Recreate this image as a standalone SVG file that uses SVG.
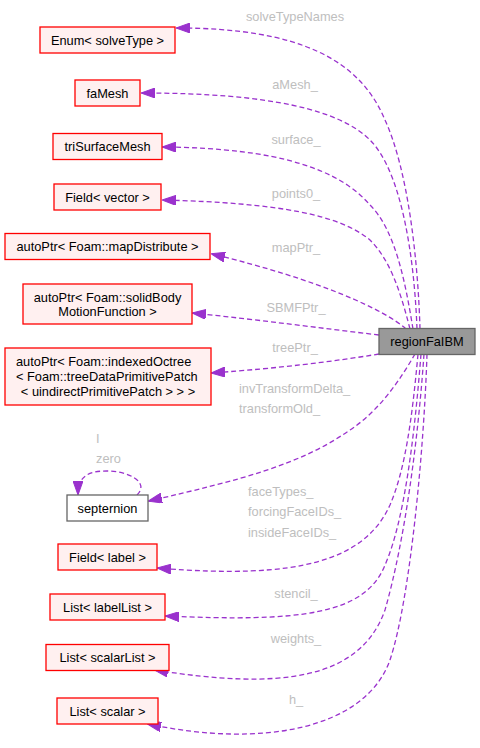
<svg xmlns="http://www.w3.org/2000/svg" width="480" height="748" viewBox="0 0 480 748">
<style>
text{font-family:"Liberation Sans",Arial,sans-serif;font-size:12.8px}
.n text{fill:#000;text-anchor:middle}
.r rect{fill:#fff0f0;stroke:#ff0000;stroke-width:1.3}
.lbl{fill:#bebebe}
.m{text-anchor:middle}
.e path{fill:none;stroke:#9a32cd;stroke-width:1.3;stroke-dasharray:5,3;marker-end:url(#ah)}
</style>
<defs>
<marker id="ah" markerUnits="userSpaceOnUse" markerWidth="14" markerHeight="10" viewBox="0 0 14 10" refX="13" refY="5" orient="auto">
<path d="M0,0 L14,5 L0,10 z" fill="#9a32cd" stroke="#9a32cd"/>
</marker>
</defs>
<rect width="480" height="748" fill="#fff"/>
<g id="edges" class="e">
<path d="M420,329 C418,260 408,170 385,120 C360,60 300,28 177,28"/>
<path d="M417,329 C414,250 400,170 370,140 C340,110 270,93 142,93"/>
<path d="M413,329 C405,280 395,230 370,205 C340,170 280,148 163,147"/>
<path d="M410,329 C400,290 390,260 370,240 C340,215 280,203 163,200"/>
<path d="M406,329 C385,310 320,280 212,254"/>
<path d="M379,335 C320,328 260,320 193,313"/>
<path d="M379,354 C330,362 280,368 212,373"/>
<path d="M415,354 C400,380 380,410 350,430 C300,465 240,480 149,501"/>
<path d="M418,354 C412,420 405,470 390,505 C365,560 300,580 158,568"/>
<path d="M421,354 C415,430 405,520 385,565 C365,615 300,622 166,616"/>
<path d="M424,354 C418,440 405,540 385,610 C360,680 280,690 155,670"/>
<path d="M427,354 C424,450 410,600 390,660 C365,730 260,748 148,724"/>
<path d="M137,495 C150,482 128,471 107,471 C92,471 78,474 78,494"/>
</g>
<g id="labels" class="lbl">
<text class="m" x="295" y="21">solveTypeNames</text>
<text class="m" x="295" y="89">aMesh_</text>
<text class="m" x="296" y="144">surface_</text>
<text class="m" x="296" y="198">points0_</text>
<text class="m" x="296" y="252">mapPtr_</text>
<text class="m" x="296" y="312">SBMFPtr_</text>
<text class="m" x="295" y="352">treePtr_</text>
<text x="239" y="393">invTransformDelta_</text>
<text x="239" y="413">transformOld_</text>
<text x="248" y="496">faceTypes_</text>
<text x="248" y="516">forcingFaceIDs_</text>
<text x="248" y="537">insideFaceIDs_</text>
<text class="m" x="296" y="598">stencil_</text>
<text class="m" x="296" y="643">weights_</text>
<text class="m" x="296" y="704">h_</text>
<text x="96" y="443">I</text>
<text x="96" y="463">zero</text>
</g>
<g id="regionFaIBM" class="n">
<rect x="379" y="328.5" width="96" height="26" fill="#999999" stroke="#666666" stroke-width="1.3"/>
<text x="427" y="346">regionFaIBM</text>
</g>
<g id="enum" class="n r">
<rect x="40" y="27" width="135" height="26"/>
<text x="107.5" y="44.5">Enum&lt; solveType &gt;</text>
</g>
<g id="faMesh" class="n r">
<rect x="75" y="80" width="65" height="26"/>
<text x="107.5" y="97.5">faMesh</text>
</g>
<g id="triSurfaceMesh" class="n r">
<rect x="53" y="133.5" width="109" height="26"/>
<text x="107.5" y="151">triSurfaceMesh</text>
</g>
<g id="fieldVector" class="n r">
<rect x="54" y="184" width="107" height="26"/>
<text x="107.5" y="201.5">Field&lt; vector &gt;</text>
</g>
<g id="mapDistribute" class="n r">
<rect x="5" y="233.5" width="205" height="26"/>
<text x="107.5" y="251">autoPtr&lt; Foam::mapDistribute &gt;</text>
</g>
<g id="solidBody" class="n r">
<rect x="23" y="284" width="169" height="40"/>
<text x="107.5" y="302">autoPtr&lt; Foam::solidBody</text>
<text x="107.5" y="316">MotionFunction &gt;</text>
</g>
<g id="octree" class="n r">
<rect x="5" y="348" width="206" height="57"/>
<text x="16" y="366" style="text-anchor:start">autoPtr&lt; Foam::indexedOctree</text>
<text x="16" y="381" style="text-anchor:start">&lt; Foam::treeDataPrimitivePatch</text>
<text x="108" y="396">&lt; uindirectPrimitivePatch &gt; &gt; &gt;</text>
</g>
<g id="septernion" class="n">
<rect x="67" y="495" width="81" height="26" fill="#fff" stroke="#666666" stroke-width="1.3"/>
<text x="107.5" y="512.5">septernion</text>
</g>
<g id="fieldLabel" class="n r">
<rect x="58" y="544" width="99" height="26"/>
<text x="107.5" y="561.5">Field&lt; label &gt;</text>
</g>
<g id="listLabelList" class="n r">
<rect x="50" y="594" width="115" height="26"/>
<text x="107.5" y="611.5">List&lt; labelList &gt;</text>
</g>
<g id="listScalarList" class="n r">
<rect x="46" y="644.5" width="123" height="26"/>
<text x="107.5" y="662">List&lt; scalarList &gt;</text>
</g>
<g id="listScalar" class="n r">
<rect x="57" y="698" width="101" height="26"/>
<text x="107.5" y="715.5">List&lt; scalar &gt;</text>
</g>
</svg>
